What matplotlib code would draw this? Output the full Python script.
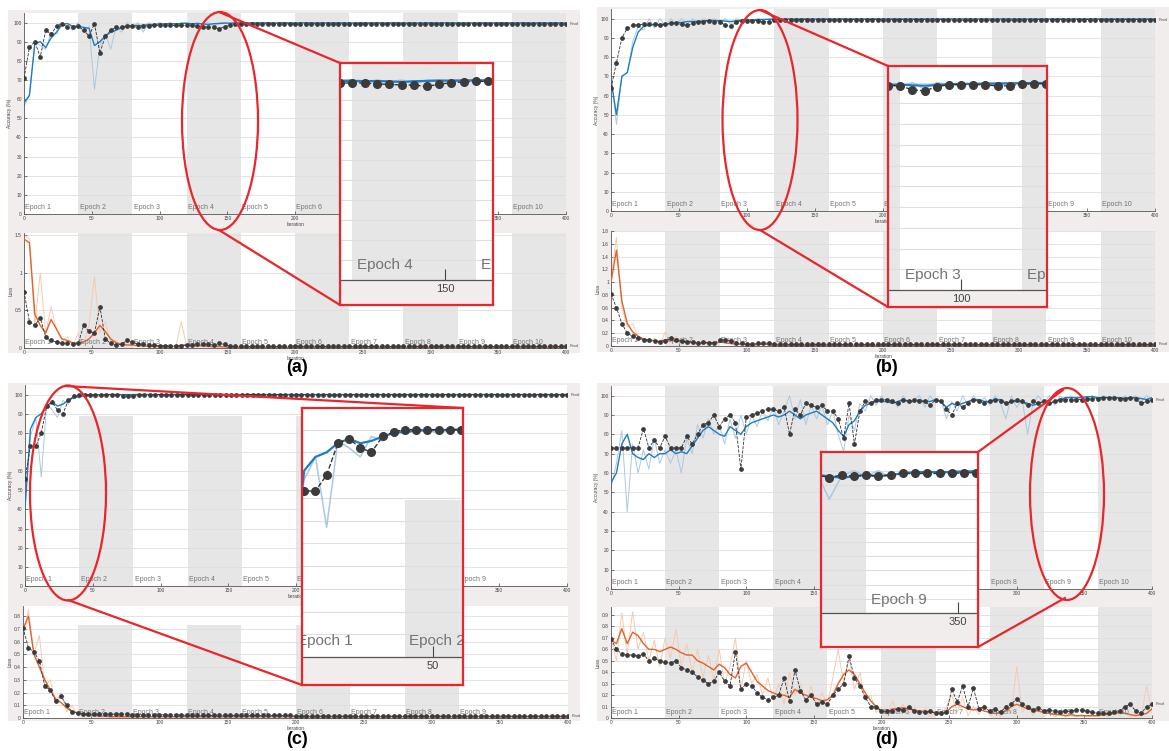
import numpy as np
import matplotlib.pyplot as plt
import matplotlib.transforms as mtransforms
from matplotlib.patches import Ellipse, Rectangle
from matplotlib.ticker import FormatStrFormatter

plt.rcParams['font.family'] = ['Liberation Sans', 'DejaVu Sans']

# iteration of every stored value (one value every 4 iterations)
iterations = list(range(0, 401, 4))

# ---------------- panel (a) ----------------
acc_raw_a = [56, 62, 90, 88, 86, 95, 94, 100, 98, 96,
             100, 95, 98, 65, 88, 94, 86, 98, 95, 100,
             97, 100, 95, 100, 98, 100, 99, 100, 98, 100,
             100, 98, 100, 99, 100, 98, 100, 100, 99, 100,
             100, 100, 99, 100, 100, 100, 99, 100, 100, 100,
             99, 100, 100, 100, 100, 99, 100, 100, 100, 100,
             100, 99, 100, 100, 100, 100, 100, 99, 100, 100,
             100, 100, 100, 99, 100, 100, 100, 100, 100, 100,
             100, 100, 99, 100, 100, 100, 100, 100, 100, 100,
             100, 100, 100, 100, 99, 100, 100, 100, 100, 100,
             100]
acc_sm_a = [58, 62, 89, 90, 87, 92, 95, 99, 99.5, 98,
            98, 97.5, 97, 88, 90, 93, 95, 96, 97.5, 98,
            98.5, 98.5, 98.5, 99, 99, 99.3, 99.3, 99.5, 99.3, 99.5,
            99.6, 99.4, 99.5, 99.3, 99, 99.4, 99.5, 99.7, 99.7, 99.8,
            99.8, 99.8, 99.9, 99.8, 99.8, 99.9, 99.8, 99.8, 99.9, 99.8,
            99.8, 99.8, 99.9, 99.8, 99.8, 99.9, 99.8, 99.8, 99.9, 99.8,
            99.8, 99.8, 99.9, 99.8, 99.8, 99.9, 99.8, 99.8, 99.9, 99.8,
            99.8, 99.8, 99.9, 99.8, 99.8, 99.9, 99.8, 99.8, 99.9, 99.8,
            99.8, 99.8, 99.9, 99.8, 99.8, 99.9, 99.8, 99.8, 99.9, 99.8,
            99.8, 99.8, 99.9, 99.8, 99.8, 99.9, 99.8, 99.8, 99.9, 99.8,
            99.8]
val_acc_a = [71, 87, 90, 82, 96, 94, 98, 99.5, 97.5, 97.5,
             98, 96, 93, 99.5, 84, 93, 96, 97.5, 97.5, 98,
             98, 97.5, 98, 98.3, 98.5, 98.5, 98.5, 98.5, 98.5, 98.5,
             98.5, 98.5, 98, 97.8, 97.5, 97.5, 96.8, 97.8, 98.7, 99,
             99.3, 99.3, 99.3, 99.3, 99.3, 99.3, 99.3, 99.3, 99.3, 99.3,
             99.3, 99, 99.3, 99.3, 99.3, 99.3, 99.3, 99.3, 99.3, 99.3,
             99.3, 99.3, 99.3, 99.3, 99.3, 99.3, 99.3, 99.3, 99.3, 99.3,
             99.3, 99.3, 99.3, 99.3, 99.3, 99.3, 99.3, 99.3, 99.3, 99.3,
             99.3, 99.3, 99.3, 99.3, 99.3, 99.3, 99.3, 99.3, 99.3, 99.3,
             99.3, 99.3, 99.3, 99.3, 99.3, 99.3, 99.3, 99.3, 99.3, 99.3,
             99.3]
loss_raw_a = [1.5, 1.45, 0.3, 1.0, 0.2, 0.55, 0.25, 0.1, 0.15, 0.03,
              0.2, 0.05, 0.3, 0.95, 0.2, 0.35, 0.08, 0.1, 0.02, 0.08,
              0.01, 0.05, 0.01, 0.04, 0.01, 0.02, 0.01, 0.03, 0.01, 0.35,
              0.02, 0.05, 0.01, 0.04, 0.02, 0.05, 0.01, 0.03, 0.01, 0.01,
              0.005, 0.01, 0.005, 0.01, 0.005, 0.01, 0.005, 0.01, 0.005, 0.01,
              0.005, 0.01, 0.005, 0.01, 0.005, 0.01, 0.005, 0.01, 0.005, 0.01,
              0.005, 0.01, 0.005, 0.01, 0.005, 0.01, 0.005, 0.01, 0.005, 0.01,
              0.005, 0.01, 0.005, 0.01, 0.005, 0.01, 0.005, 0.01, 0.005, 0.01,
              0.005, 0.01, 0.005, 0.01, 0.005, 0.01, 0.005, 0.01, 0.005, 0.01,
              0.005, 0.01, 0.005, 0.01, 0.005, 0.01, 0.005, 0.01, 0.005, 0.01,
              0.005]
loss_sm_a = [1.45, 1.4, 0.45, 0.3, 0.2, 0.38, 0.25, 0.12, 0.1, 0.07,
             0.06, 0.08, 0.12, 0.2, 0.3, 0.22, 0.12, 0.07, 0.05, 0.04,
             0.04, 0.03, 0.03, 0.02, 0.02, 0.02, 0.02, 0.02, 0.02, 0.04,
             0.04, 0.03, 0.03, 0.03, 0.02, 0.02, 0.02, 0.015, 0.01, 0.01,
             0.01, 0.01, 0.01, 0.01, 0.01, 0.01, 0.01, 0.01, 0.01, 0.01,
             0.01, 0.01, 0.01, 0.01, 0.01, 0.01, 0.01, 0.01, 0.01, 0.01,
             0.01, 0.01, 0.01, 0.01, 0.01, 0.01, 0.01, 0.01, 0.01, 0.01,
             0.01, 0.01, 0.01, 0.01, 0.01, 0.01, 0.01, 0.01, 0.01, 0.01,
             0.01, 0.01, 0.01, 0.01, 0.01, 0.01, 0.01, 0.01, 0.01, 0.01,
             0.01, 0.01, 0.01, 0.01, 0.01, 0.01, 0.01, 0.01, 0.01, 0.01,
             0.01]
val_loss_a = [0.75, 0.35, 0.3, 0.4, 0.15, 0.1, 0.08, 0.06, 0.06, 0.05,
              0.06, 0.3, 0.22, 0.2, 0.55, 0.12, 0.06, 0.04, 0.05, 0.1,
              0.08, 0.05, 0.05, 0.04, 0.04, 0.03, 0.03, 0.03, 0.03, 0.03,
              0.04, 0.04, 0.05, 0.05, 0.05, 0.04, 0.06, 0.05, 0.02, 0.02,
              0.02, 0.02, 0.02, 0.02, 0.02, 0.02, 0.02, 0.02, 0.02, 0.02,
              0.03, 0.02, 0.02, 0.02, 0.02, 0.02, 0.02, 0.02, 0.02, 0.02,
              0.02, 0.02, 0.02, 0.02, 0.02, 0.02, 0.02, 0.02, 0.02, 0.02,
              0.02, 0.02, 0.02, 0.02, 0.02, 0.02, 0.02, 0.02, 0.02, 0.02,
              0.02, 0.02, 0.02, 0.02, 0.02, 0.02, 0.02, 0.02, 0.02, 0.02,
              0.02, 0.02, 0.02, 0.02, 0.02, 0.02, 0.02, 0.02, 0.02, 0.02,
              0.02]

# ---------------- panel (b) ----------------
acc_raw_b = [72, 45, 70, 72, 88, 96, 94, 100, 95, 100,
             96, 100, 97, 100, 97, 100, 98, 100, 99, 100,
             98, 100, 97, 100, 99, 100, 99, 100, 99, 100,
             100, 99.5, 100, 100, 99.5, 100, 100, 99.5, 100, 100,
             100, 99.5, 100, 100, 99.5, 100, 100, 99.5, 100, 100,
             100, 99.5, 100, 100, 99.5, 100, 100, 99.5, 100, 100,
             100, 99.5, 100, 100, 99.5, 100, 100, 99.5, 100, 100,
             100, 99.5, 100, 100, 99.5, 100, 100, 99.5, 100, 100,
             100, 99.5, 100, 100, 99.5, 100, 100, 99.5, 100, 100,
             100, 99.5, 100, 100, 99.5, 100, 100, 99.5, 100, 100,
             100]
acc_sm_b = [68, 50, 70, 72, 85, 93, 96, 96.5, 97, 97,
            97, 97.5, 98, 98, 98.5, 98.5, 98.5, 98.8, 99, 99,
            99, 98.7, 98.5, 98.8, 99.2, 99.3, 99.4, 99.5, 99.6, 99.6,
            99.7, 99.8, 99.8, 99.8, 99.8, 99.8, 99.8, 99.8, 99.8, 99.8,
            99.8, 99.8, 99.8, 99.8, 99.8, 99.8, 99.8, 99.8, 99.8, 99.8,
            99.8, 99.8, 99.8, 99.8, 99.8, 99.8, 99.8, 99.8, 99.8, 99.8,
            99.8, 99.8, 99.8, 99.8, 99.8, 99.8, 99.8, 99.8, 99.8, 99.8,
            99.8, 99.8, 99.8, 99.8, 99.8, 99.8, 99.8, 99.8, 99.8, 99.8,
            99.8, 99.8, 99.8, 99.8, 99.8, 99.8, 99.8, 99.8, 99.8, 99.8,
            99.8, 99.8, 99.8, 99.8, 99.8, 99.8, 99.8, 99.8, 99.8, 99.8,
            99.8]
val_acc_b = [64, 77, 90, 95, 96.5, 96.8, 97, 97, 97, 96.5,
             97, 97.5, 97.5, 97, 96.5, 97.5, 98.5, 98.5, 99, 98.5,
             98.5, 96.5, 96, 98, 99, 99, 99, 99, 98.3, 98.5,
             99.3, 99.4, 99.5, 99.5, 99.5, 99.5, 99.5, 99.5, 99.5, 99.5,
             99.5, 99.5, 99.5, 99.5, 99.5, 99.5, 99.5, 99.5, 99.5, 99.5,
             99.5, 99.5, 99.5, 99.5, 99.5, 99.5, 99.5, 99.5, 99.5, 99.5,
             99.5, 99.5, 99.2, 99.2, 99.2, 99.2, 99.2, 99.2, 99.2, 99.2,
             99.2, 99.2, 99.2, 99.2, 99.2, 99.5, 99.5, 99.5, 99.5, 99.5,
             99.5, 99.5, 99.5, 99.5, 99.5, 99.5, 99.5, 99.5, 99.5, 99.5,
             99.5, 99.5, 99.5, 99.5, 99.5, 99.5, 99.5, 99.5, 99.5, 99.5,
             99.5]
loss_raw_b = [1.1, 1.7, 0.6, 0.3, 0.35, 0.15, 0.1, 0.05, 0.12, 0.03,
              0.22, 0.05, 0.15, 0.02, 0.1, 0.03, 0.06, 0.02, 0.08, 0.02,
              0.1, 0.05, 0.03, 0.01, 0.04, 0.01, 0.02, 0.01, 0.05, 0.01,
              0.01, 0.005, 0.01, 0.005, 0.01, 0.005, 0.01, 0.005, 0.01, 0.005,
              0.01, 0.005, 0.01, 0.005, 0.01, 0.005, 0.01, 0.005, 0.01, 0.005,
              0.01, 0.005, 0.01, 0.005, 0.01, 0.005, 0.01, 0.005, 0.01, 0.005,
              0.01, 0.005, 0.01, 0.005, 0.01, 0.005, 0.01, 0.005, 0.01, 0.005,
              0.01, 0.005, 0.01, 0.005, 0.01, 0.005, 0.01, 0.005, 0.01, 0.005,
              0.01, 0.005, 0.01, 0.005, 0.01, 0.005, 0.01, 0.005, 0.01, 0.005,
              0.01, 0.005, 0.01, 0.005, 0.01, 0.005, 0.01, 0.005, 0.01, 0.005,
              0.005]
loss_sm_b = [1.0, 1.5, 0.7, 0.35, 0.22, 0.15, 0.11, 0.09, 0.08, 0.07,
             0.1, 0.09, 0.08, 0.06, 0.06, 0.05, 0.05, 0.04, 0.05, 0.04,
             0.06, 0.05, 0.04, 0.03, 0.03, 0.02, 0.02, 0.02, 0.03, 0.02,
             0.01, 0.01, 0.01, 0.01, 0.01, 0.01, 0.01, 0.01, 0.01, 0.01,
             0.01, 0.01, 0.01, 0.01, 0.01, 0.01, 0.01, 0.01, 0.01, 0.01,
             0.01, 0.01, 0.01, 0.01, 0.01, 0.01, 0.01, 0.01, 0.01, 0.01,
             0.01, 0.01, 0.01, 0.01, 0.01, 0.01, 0.01, 0.01, 0.01, 0.01,
             0.01, 0.01, 0.01, 0.01, 0.01, 0.01, 0.01, 0.01, 0.01, 0.01,
             0.01, 0.01, 0.01, 0.01, 0.01, 0.01, 0.01, 0.01, 0.01, 0.01,
             0.01, 0.01, 0.01, 0.01, 0.01, 0.01, 0.01, 0.01, 0.01, 0.01,
             0.01]
val_loss_b = [0.82, 0.6, 0.35, 0.2, 0.15, 0.12, 0.1, 0.09, 0.08, 0.07,
              0.08, 0.12, 0.1, 0.08, 0.07, 0.06, 0.05, 0.06, 0.05, 0.05,
              0.09, 0.1, 0.08, 0.05, 0.04, 0.03, 0.03, 0.04, 0.05, 0.04,
              0.03, 0.025, 0.025, 0.025, 0.025, 0.025, 0.025, 0.025, 0.025, 0.025,
              0.025, 0.025, 0.025, 0.025, 0.025, 0.025, 0.025, 0.025, 0.025, 0.025,
              0.025, 0.025, 0.025, 0.025, 0.025, 0.025, 0.025, 0.025, 0.025, 0.025,
              0.025, 0.025, 0.025, 0.025, 0.025, 0.025, 0.025, 0.025, 0.025, 0.025,
              0.025, 0.025, 0.025, 0.025, 0.025, 0.025, 0.025, 0.025, 0.025, 0.025,
              0.025, 0.025, 0.025, 0.025, 0.025, 0.025, 0.025, 0.025, 0.025, 0.025,
              0.025, 0.025, 0.025, 0.025, 0.025, 0.025, 0.025, 0.025, 0.025, 0.025,
              0.025]

# ---------------- panel (c) ----------------
acc_raw_c = [45, 78, 88, 57, 95, 92, 88, 97, 95, 100,
             98, 100, 100, 98, 100, 100, 100, 100, 100, 100,
             100, 100, 100, 100, 100, 100, 100, 100, 100, 100,
             100, 100, 100, 100, 100, 100, 100, 100, 100, 100,
             100, 100, 100, 100, 100, 100, 100, 100, 100, 100,
             100, 100, 100, 100, 100, 100, 100, 100, 100, 100,
             100, 100, 100, 100, 100, 100, 100, 100, 100, 100,
             100, 100, 100, 100, 100, 100, 100, 100, 100, 100,
             100, 100, 100, 100, 100, 100, 100, 100, 100, 100,
             100, 100, 100, 100, 100, 100, 100, 100, 100, 100,
             100]
acc_sm_c = [40, 82, 88, 90, 94, 96, 94, 95, 97, 98.5,
            99, 99.5, 99.7, 99.8, 99.9, 100, 100, 100, 100, 100,
            100, 100, 100, 100, 100, 100, 100, 100, 100, 100,
            100, 100, 100, 100, 100, 100, 100, 100, 100, 100,
            100, 100, 100, 100, 100, 100, 100, 100, 100, 100,
            100, 100, 100, 100, 100, 100, 100, 100, 100, 100,
            100, 100, 100, 100, 100, 100, 100, 100, 100, 100,
            100, 100, 100, 100, 100, 100, 100, 100, 100, 100,
            100, 100, 100, 100, 100, 100, 100, 100, 100, 100,
            100, 100, 100, 100, 100, 100, 100, 100, 100, 100,
            100]
val_acc_c = [56, 73, 73, 80, 94, 96, 92, 90, 97, 99,
             100, 100, 100, 100, 100, 100, 100, 100, 99.5, 99.5,
             99.5, 100, 100, 100, 100, 100, 100, 100, 100, 100,
             100, 100, 100, 100, 100, 100, 100, 100, 100, 100,
             100, 100, 100, 100, 100, 100, 100, 100, 100, 100,
             100, 100, 100, 100, 100, 100, 100, 100, 100, 100,
             100, 100, 100, 100, 100, 100, 100, 100, 100, 100,
             100, 100, 100, 100, 100, 100, 100, 100, 100, 100,
             100, 100, 100, 100, 100, 100, 100, 100, 100, 100,
             100, 100, 100, 100, 100, 100, 100, 100, 100, 100,
             100]
loss_raw_c = [0.6, 0.85, 0.5, 0.65, 0.25, 0.3, 0.12, 0.2, 0.05, 0.1,
              0.02, 0.05, 0.01, 0.02, 0.01, 0.01, 0.01, 0.01, 0.01, 0.01,
              0.01, 0.01, 0.01, 0.01, 0.01, 0.01, 0.01, 0.01, 0.01, 0.01,
              0.01, 0.01, 0.01, 0.01, 0.01, 0.01, 0.01, 0.01, 0.01, 0.01,
              0.01, 0.01, 0.01, 0.01, 0.01, 0.01, 0.01, 0.01, 0.01, 0.01,
              0.01, 0.01, 0.01, 0.01, 0.01, 0.01, 0.01, 0.01, 0.01, 0.01,
              0.01, 0.01, 0.01, 0.01, 0.01, 0.01, 0.01, 0.01, 0.01, 0.01,
              0.01, 0.01, 0.01, 0.01, 0.01, 0.01, 0.01, 0.01, 0.01, 0.01,
              0.01, 0.01, 0.01, 0.01, 0.01, 0.01, 0.01, 0.01, 0.01, 0.01,
              0.01, 0.01, 0.01, 0.01, 0.01, 0.01, 0.01, 0.01, 0.01, 0.01,
              0.01]
loss_sm_c = [0.7, 0.8, 0.5, 0.4, 0.3, 0.22, 0.15, 0.12, 0.08, 0.05,
             0.04, 0.03, 0.02, 0.02, 0.015, 0.015, 0.01, 0.01, 0.01, 0.01,
             0.01, 0.01, 0.01, 0.01, 0.01, 0.01, 0.01, 0.01, 0.01, 0.01,
             0.01, 0.01, 0.01, 0.01, 0.01, 0.01, 0.01, 0.01, 0.01, 0.01,
             0.01, 0.01, 0.01, 0.01, 0.01, 0.01, 0.01, 0.01, 0.01, 0.01,
             0.01, 0.01, 0.01, 0.01, 0.01, 0.01, 0.01, 0.01, 0.01, 0.01,
             0.01, 0.01, 0.01, 0.01, 0.01, 0.01, 0.01, 0.01, 0.01, 0.01,
             0.01, 0.01, 0.01, 0.01, 0.01, 0.01, 0.01, 0.01, 0.01, 0.01,
             0.01, 0.01, 0.01, 0.01, 0.01, 0.01, 0.01, 0.01, 0.01, 0.01,
             0.01, 0.01, 0.01, 0.01, 0.01, 0.01, 0.01, 0.01, 0.01, 0.01,
             0.01]
val_loss_c = [0.71, 0.55, 0.52, 0.45, 0.25, 0.22, 0.13, 0.17, 0.1, 0.05,
              0.04, 0.035, 0.03, 0.03, 0.03, 0.03, 0.03, 0.03, 0.03, 0.03,
              0.025, 0.025, 0.025, 0.025, 0.025, 0.025, 0.025, 0.025, 0.025, 0.025,
              0.02, 0.02, 0.02, 0.02, 0.02, 0.02, 0.02, 0.02, 0.02, 0.02,
              0.02, 0.02, 0.02, 0.02, 0.02, 0.02, 0.02, 0.02, 0.02, 0.02,
              0.015, 0.015, 0.015, 0.015, 0.015, 0.015, 0.015, 0.015, 0.015, 0.015,
              0.015, 0.015, 0.015, 0.015, 0.015, 0.015, 0.015, 0.015, 0.015, 0.015,
              0.015, 0.015, 0.015, 0.015, 0.015, 0.015, 0.015, 0.015, 0.015, 0.015,
              0.015, 0.015, 0.015, 0.015, 0.015, 0.015, 0.015, 0.015, 0.015, 0.015,
              0.015, 0.015, 0.015, 0.015, 0.015, 0.015, 0.015, 0.015, 0.015, 0.015,
              0.015]

# ---------------- panel (d) ----------------
acc_raw_d = [52, 65, 82, 40, 75, 60, 72, 62, 78, 65,
             72, 65, 72, 60, 78, 70, 85, 78, 88, 80,
             85, 75, 88, 78, 90, 80, 90, 84, 92, 87,
             94, 85, 92, 100, 88, 98, 85, 95, 88, 95,
             85, 92, 80, 71, 90, 82, 96, 92, 100, 95,
             100, 96, 98, 94, 100, 96, 98, 100, 94, 100,
             96, 98, 88, 97, 92, 100, 95, 100, 96, 99,
             95, 100, 96, 88, 100, 94, 98, 80, 96, 100,
             96, 100, 95, 100, 97, 100, 98, 100, 99, 100,
             98, 100, 99, 100, 98, 100, 98, 100, 97, 100,
             98]
acc_sm_d = [55, 60, 75, 80, 70, 68, 67, 70, 68, 70,
            70, 72, 70, 71, 70, 74, 78, 82, 84, 82,
            80, 79, 84, 82, 80, 84, 86, 87, 88, 89,
            90, 89, 90, 92, 90, 88, 90, 91, 92, 90,
            88, 86, 82, 79, 85, 87, 92, 95, 96, 97,
            97, 97, 96, 97, 98, 97, 97, 98, 97, 97,
            98, 97, 94, 96, 95, 96, 97, 98, 98, 97,
            97, 98, 98, 96, 97, 97, 97, 96, 95, 96,
            97, 96, 97, 98, 99, 99, 99, 99, 99.5, 99.5,
            99, 99, 99, 99, 99, 98.5, 99, 99, 98.5, 98,
            99]
val_acc_d = [73, 73, 73, 73, 73, 73, 83, 73, 77, 73,
             79, 73, 73, 73, 79, 75, 80, 85, 86, 90,
             84, 88, 90, 86, 62, 89, 90, 91, 92, 93,
             93, 92, 94, 80, 93, 90, 96, 95, 94, 95,
             92, 92, 88, 78, 96, 75, 92, 97, 96, 98,
             98, 98, 97, 96, 98, 97, 98, 97, 97, 95,
             98, 97, 93, 90, 96, 94, 96, 98, 97, 96,
             97, 98, 97, 96, 97, 98, 97, 95, 97, 96,
             97, 96, 97, 98, 98, 98, 98, 98, 98.5, 98.5,
             98.5, 99, 99, 99, 98.5, 98.5, 99, 98.5, 96, 97,
             98]
loss_raw_d = [0.7, 0.5, 0.92, 0.55, 0.93, 0.6, 0.75, 0.5, 0.68, 0.45,
              0.7, 0.52, 0.78, 0.45, 0.65, 0.4, 0.6, 0.35, 0.55, 0.32,
              0.6, 0.3, 0.45, 0.7, 0.25, 0.5, 0.3, 0.38, 0.2, 0.35,
              0.15, 0.3, 0.12, 0.4, 0.2, 0.3, 0.12, 0.28, 0.1, 0.22,
              0.12, 0.35, 0.6, 0.3, 0.52, 0.25, 0.4, 0.15, 0.2, 0.05,
              0.08, 0.02, 0.15, 0.04, 0.12, 0.03, 0.1, 0.02, 0.08, 0.01,
              0.06, 0.02, 0.1, 0.2, 0.05, 0.18, 0.02, 0.1, 0.03, 0.12,
              0.02, 0.06, 0.01, 0.1, 0.04, 0.45, 0.05, 0.12, 0.02, 0.08,
              0.01, 0.05, 0.01, 0.03, 0.01, 0.02, 0.01, 0.03, 0.01, 0.02,
              0.01, 0.04, 0.01, 0.06, 0.02, 0.05, 0.01, 0.03, 0.01, 0.28,
              0.05]
loss_sm_d = [0.68, 0.65, 0.78, 0.65, 0.75, 0.72, 0.65, 0.6, 0.6, 0.58,
             0.6, 0.62, 0.6, 0.57, 0.55, 0.55, 0.5, 0.48, 0.45, 0.42,
             0.47, 0.44, 0.38, 0.35, 0.45, 0.48, 0.4, 0.32, 0.28, 0.24,
             0.22, 0.2, 0.2, 0.18, 0.25, 0.22, 0.2, 0.18, 0.17, 0.15,
             0.16, 0.2, 0.3, 0.38, 0.42, 0.38, 0.3, 0.22, 0.15, 0.1,
             0.06, 0.05, 0.08, 0.08, 0.09, 0.08, 0.07, 0.06, 0.06, 0.05,
             0.05, 0.04, 0.05, 0.1, 0.12, 0.1, 0.08, 0.07, 0.08, 0.06,
             0.05, 0.04, 0.05, 0.06, 0.1, 0.12, 0.1, 0.08, 0.07, 0.06,
             0.05, 0.04, 0.03, 0.03, 0.02, 0.03, 0.02, 0.02, 0.02, 0.02,
             0.02, 0.03, 0.03, 0.04, 0.05, 0.04, 0.03, 0.02, 0.03, 0.04,
             0.08]
val_loss_d = [0.69, 0.6, 0.56, 0.55, 0.55, 0.54, 0.56, 0.5, 0.52, 0.5,
              0.49, 0.48, 0.5, 0.44, 0.42, 0.4, 0.36, 0.33, 0.3, 0.32,
              0.4, 0.32, 0.28, 0.58, 0.25, 0.3, 0.28, 0.22, 0.18, 0.16,
              0.18, 0.2, 0.35, 0.15, 0.42, 0.24, 0.16, 0.2, 0.12, 0.14,
              0.12, 0.2, 0.25, 0.3, 0.54, 0.35, 0.28, 0.18, 0.1, 0.1,
              0.06, 0.06, 0.06, 0.08, 0.07, 0.1, 0.06, 0.05, 0.05, 0.06,
              0.04, 0.04, 0.05, 0.25, 0.14, 0.28, 0.1, 0.26, 0.08, 0.1,
              0.06, 0.08, 0.05, 0.1, 0.12, 0.17, 0.12, 0.1, 0.07, 0.09,
              0.06, 0.07, 0.06, 0.05, 0.06, 0.06, 0.07, 0.07, 0.06, 0.05,
              0.04, 0.04, 0.04, 0.05, 0.06, 0.1, 0.12, 0.06, 0.04, 0.1,
              0.12]

# ---------------- layout (pixels) ----------------
W, H = 1169, 751
BG = '#f1eded'
SHADE = '#e6e6e6'
RED = '#e8262b'
EPOCH_LEN = 40

fig = plt.figure(figsize=(W / 100, H / 100), dpi=100)


def px_box(l, t, r, b):
    return [l / W, 1 - b / H, (r - l) / W, (b - t) / H]


def draw_curves(ax, raw, smooth, val, raw_c, sm_c, ms, lw):
    ax.plot(iterations, raw, color=raw_c, lw=0.7 * lw, zorder=2)
    ax.plot(iterations, smooth, color=sm_c, lw=lw, zorder=3)
    ax.plot(iterations, val, color='#2e2e2e', lw=0.6 * lw, ls='--', marker='o',
            ms=ms, mfc='#3b3b3b', mec='#3b3b3b', zorder=4)


def shade(ax, n_epochs, top):
    for e in range(n_epochs):
        if e % 2 == 1:
            ax.axvspan(e * EPOCH_LEN, (e + 1) * EPOCH_LEN, ymin=0, ymax=top,
                       color=SHADE, lw=0, zorder=0)


def epoch_labels(ax, n_epochs, size, dx, yfrac):
    tr = mtransforms.blended_transform_factory(ax.transData, ax.transAxes)
    for e in range(n_epochs):
        ax.text(e * EPOCH_LEN + dx, yfrac, f'Epoch {e + 1}', transform=tr,
                fontsize=size, color='#737373', va='bottom', ha='left', clip_on=True)


def style(ax, ylim, yticks, ylabel):
    ax.set_xlim(0, 400)
    ax.set_ylim(*ylim)
    ax.set_xticks(range(0, 401, 50))
    ax.set_yticks(yticks)
    ax.yaxis.set_major_formatter(FormatStrFormatter('%g'))
    for s in ['top', 'right']:
        ax.spines[s].set_visible(False)
    for s in ['left', 'bottom']:
        ax.spines[s].set_color('#555555')
        ax.spines[s].set_linewidth(0.6)
    ax.tick_params(direction='in', length=2.5, width=0.5, labelsize=3.5,
                   colors='#444444', pad=1.5)
    ax.yaxis.grid(True, color='#dedede', lw=0.6)
    ax.set_axisbelow(True)
    ax.set_ylabel(ylabel, fontsize=3.5, color='#444444', labelpad=1)
    ax.set_xlabel('Iteration', fontsize=3.5, color='#444444', labelpad=0.5)


panels = [
    dict(name='(a)', bg=(8, 10, 580, 353), acc=(24, 13, 566, 214), loss=(24, 233, 566, 348),
         lab=(297, 368), n_ep=10, shade_acc=1.0, shade_loss=1.0,
         acc_data=(acc_raw_a, acc_sm_a, val_acc_a), loss_data=(loss_raw_a, loss_sm_a, val_loss_a),
         loss_ylim=(0, 1.53), loss_ticks=[0, 0.5, 1, 1.5]),
    dict(name='(b)', bg=(597, 7, 1169, 352), acc=(611, 9, 1155, 211), loss=(611, 231, 1155, 346),
         lab=(886, 368), n_ep=10, shade_acc=1.0, shade_loss=1.0,
         acc_data=(acc_raw_b, acc_sm_b, val_acc_b), loss_data=(loss_raw_b, loss_sm_b, val_loss_b),
         loss_ylim=(0, 1.8), loss_ticks=np.arange(0, 1.81, 0.2)),
    dict(name='(c)', bg=(8, 383, 580, 721), acc=(25, 385, 567, 586), loss=(23, 606, 568, 718),
         lab=(297, 740), n_ep=9, shade_acc=89 / 105, shade_loss=0.73 / 0.88,
         acc_data=(acc_raw_c, acc_sm_c, val_acc_c), loss_data=(loss_raw_c, loss_sm_c, val_loss_c),
         loss_ylim=(0, 0.88), loss_ticks=np.arange(0, 0.81, 0.1)),
    dict(name='(d)', bg=(597, 383, 1169, 721), acc=(611, 386, 1152, 589), loss=(611, 607, 1152, 718),
         lab=(886, 740), n_ep=10, shade_acc=1.0, shade_loss=1.0,
         acc_data=(acc_raw_d, acc_sm_d, val_acc_d), loss_data=(loss_raw_d, loss_sm_d, val_loss_d),
         loss_ylim=(0, 0.97), loss_ticks=np.arange(0, 0.91, 0.1)),
]

for p in panels:
    l, t, r, b = p['bg']
    fig.add_artist(Rectangle((l / W, 1 - b / H), (r - l) / W, (b - t) / H,
                             transform=fig.transFigure, facecolor=BG, lw=0, zorder=-5))

    ax = fig.add_axes(px_box(*p['acc']))
    style(ax, (0, 105), range(0, 101, 10), 'Accuracy (%)')
    shade(ax, p['n_ep'], p['shade_acc'])
    draw_curves(ax, *p['acc_data'], '#abc9e0', '#1f7cc4', 2.4, 1.0)
    epoch_labels(ax, p['n_ep'], 5, 1, 0.015)
    ax.text(403, p['acc_data'][2][-1], 'Final', fontsize=3.2, color='#555555',
            va='center', clip_on=False)

    axl = fig.add_axes(px_box(*p['loss']))
    style(axl, p['loss_ylim'], p['loss_ticks'], 'Loss')
    shade(axl, p['n_ep'], p['shade_loss'])
    draw_curves(axl, *p['loss_data'], '#f3cbb2', '#e0622a', 2.4, 1.0)
    epoch_labels(axl, p['n_ep'], 5, 1, 0.02)
    axl.text(403, p['loss_data'][2][-1], 'Final', fontsize=3.2, color='#555555',
             va='center', clip_on=False)

    fig.text(p['lab'][0] / W, 1 - p['lab'][1] / H, p['name'], ha='center', va='center',
             fontsize=13, fontweight='bold')

# ---------------- zoom insets ----------------
insets = [
    dict(box=(340, 63, 493, 305), plot_b=280, xlim=(116, 165.5), ylim=(58.5, 108.5),
         data=(acc_raw_a, acc_sm_a, val_acc_a), n_ep=10, shade_top=1.0, tick=150),
    dict(box=(888, 66, 1047, 307), plot_b=290, xlim=(76, 128.2), ylim=(56.0, 108.0),
         data=(acc_raw_b, acc_sm_b, val_acc_b), n_ep=10, shade_top=1.0, tick=100),
    dict(box=(302, 408, 463, 685), plot_b=657, xlim=(3.2, 60.7), ylim=(54.2, 109.5),
         data=(acc_raw_c, acc_sm_c, val_acc_c), n_ep=9, shade_top=(89 - 54.2) / (109.5 - 54.2),
         tick=50),
    dict(box=(821, 452, 978, 647), plot_b=613, xlim=(305.3, 356.5), ylim=(76.2, 113.1),
         data=(acc_raw_d, acc_sm_d, val_acc_d), n_ep=10, shade_top=1.0, tick=350),
]

for ins in insets:
    l, t, r, b = ins['box']
    ax_bg = fig.add_axes(px_box(l, t, r, b), zorder=11)
    ax_bg.set_facecolor(BG)
    ax_bg.set_xticks([])
    ax_bg.set_yticks([])
    for s in ax_bg.spines.values():
        s.set_visible(False)

    ax_in = fig.add_axes(px_box(l, t, r, ins['plot_b']), zorder=12)
    ax_in.set_facecolor('white')
    ax_in.set_xlim(*ins['xlim'])
    ax_in.set_ylim(*ins['ylim'])
    shade(ax_in, ins['n_ep'], ins['shade_top'])
    draw_curves(ax_in, *ins['data'], '#abc9e0', '#1f7cc4', 5.5, 1.6)
    epoch_labels(ax_in, ins['n_ep'], 11, 1.5, 0.035)
    ax_in.set_xticks([ins['tick']])
    ax_in.set_xticklabels([str(ins['tick'])])
    ax_in.set_yticks(range(0, 101, 10))
    ax_in.yaxis.grid(True, color='#dedede', lw=0.8)
    ax_in.set_axisbelow(True)
    ax_in.tick_params(axis='x', direction='in', length=8, width=0.8, labelsize=8,
                      colors='#444444', pad=3)
    ax_in.tick_params(axis='y', length=0, labelleft=False)
    for s in ['top', 'right', 'left']:
        ax_in.spines[s].set_visible(False)
    ax_in.spines['bottom'].set_color('#555555')
    ax_in.spines['bottom'].set_linewidth(0.9)

    ax_fr = fig.add_axes(px_box(l, t, r, b), zorder=13)
    ax_fr.patch.set_alpha(0)
    ax_fr.set_xticks([])
    ax_fr.set_yticks([])
    for s in ax_fr.spines.values():
        s.set_color(RED)
        s.set_linewidth(1.6)

# ---------------- ellipses and connector lines ----------------
over = fig.add_axes([0, 0, 1, 1], zorder=10)
over.set_xlim(0, W)
over.set_ylim(H, 0)
over.axis('off')
over.patch.set_alpha(0)

ellipses = [((220, 121), 76, 218), ((760, 120), 75, 220),
            ((68, 493), 76, 215), ((1067, 494), 74, 212)]
for c, w, h in ellipses:
    over.add_patch(Ellipse(c, w, h, fill=False, ec=RED, lw=1.6))

connectors = [((219, 12), (340, 63)), ((219, 230), (340, 305)),
              ((760, 10), (888, 66)), ((760, 230), (888, 307)),
              ((65, 386), (463, 408)), ((68, 600), (302, 685)),
              ((1063, 390), (978, 452)), ((1065, 598), (978, 647))]
for (x1, y1), (x2, y2) in connectors:
    over.plot([x1, x2], [y1, y2], color=RED, lw=1.6, solid_capstyle='round')

fig.savefig('out.png', dpi=100)
